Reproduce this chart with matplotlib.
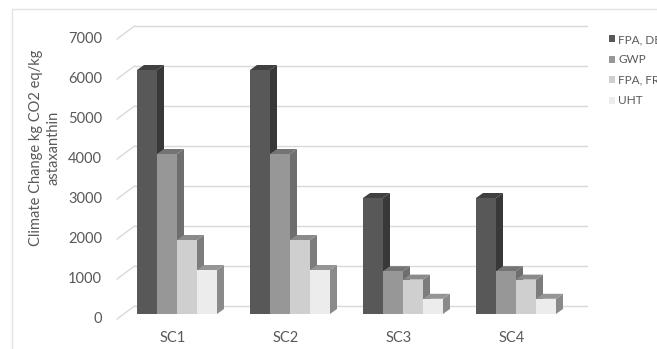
import matplotlib
matplotlib.use("Agg")
import matplotlib.pyplot as plt
from matplotlib.patches import Polygon, Rectangle

# ---- data ----
categories = ["SC1", "SC2", "SC3", "SC4"]
series_names = ["FPA, DE", "GWP", "FPA, FR", "UHT"]
fpa_de = [6100, 6100, 2900, 2900]
gwp = [4000, 4000, 1070, 1070]
fpa_fr = [1850, 1850, 860, 860]
uht = [1100, 1100, 380, 380]
y_ticks = [0, 1000, 2000, 3000, 4000, 5000, 6000, 7000]
y_label = "Climate Change kg CO2 eq/kg\nastaxanthin"

series_values = [fpa_de, gwp, fpa_fr, uht]
front_colors = ["#585858", "#979797", "#cfcfcf", "#ececec"]
side_colors = ["#383838", "#6e6e6e", "#7c7c7c", "#8a8a8a"]
top_colors = ["#404040", "#747474", "#8a8a8a", "#959595"]

plt.rcParams["font.family"] = ["Lato", "DejaVu Sans"]
text_color = "#595959"

W, H, DPI = 657, 349, 100
fig = plt.figure(figsize=(W / DPI, H / DPI), dpi=DPI)
fig.patch.set_facecolor("white")

# front plane of the bars
x_lo, x_hi = -0.5, len(categories) - 0.5
y_lo, y_hi = 0, 7000
ax_left, ax_right = 120.5, 572.5
ax_bottom, ax_top = 314, 34
ax = fig.add_axes([ax_left / W, (H - ax_bottom) / H,
                   (ax_right - ax_left) / W, (ax_bottom - ax_top) / H])
ax.set_xlim(x_lo, x_hi)
ax.set_ylim(y_lo, y_hi)
ax.axis("off")

# size of one pixel in data units
px_x = (x_hi - x_lo) / (ax_right - ax_left)
px_y = (y_hi - y_lo) / (ax_bottom - ax_top)

# back wall offset and label-plane offset relative to the bar fronts
wall_dx, wall_dy = 14 * px_x, 8 * px_y
lab_dx, lab_dy = -3.5 * px_x, -5 * px_y
grid_color = "#d9d9d9"

for v in y_ticks:
    ax.plot([x_lo + wall_dx, x_hi + wall_dx], [v + wall_dy, v + wall_dy],
            color=grid_color, lw=1.0, clip_on=False, zorder=1)
    ax.plot([x_lo + lab_dx, x_lo + wall_dx], [v + lab_dy, v + wall_dy],
            color=grid_color, lw=1.0, clip_on=False, zorder=1)
    ax.text(x_lo - 18.5 * px_x, v + lab_dy, str(v), ha="right", va="center",
            fontsize=10.5, color=text_color)

# 3D-style columns
bar_w = 20 * px_x
depth_x, depth_y = 7 * px_x, 5 * px_y
z = 2
for i, cat in enumerate(categories):
    for j, vals in enumerate(series_values):
        v = vals[i]
        x0 = i + (-40 + 20 * j) * px_x
        x1 = x0 + bar_w
        side = Polygon([(x1, 0), (x1 + depth_x, depth_y), (x1 + depth_x, v + depth_y), (x1, v)],
                       closed=True, facecolor=side_colors[j], edgecolor="none",
                       clip_on=False, zorder=z)
        top = Polygon([(x0, v), (x1, v), (x1 + depth_x, v + depth_y), (x0 + depth_x, v + depth_y)],
                      closed=True, facecolor=top_colors[j], edgecolor="none",
                      clip_on=False, zorder=z)
        front = Rectangle((x0, 0), bar_w, v, facecolor=front_colors[j],
                          edgecolor="none", clip_on=False, zorder=z + 0.5)
        ax.add_patch(side)
        ax.add_patch(top)
        ax.add_patch(front)
        z += 1
    ax.text(i - 4 * px_x, -600, cat, ha="center", va="center",
            fontsize=10.5, color=text_color)

# legend
handles = [Rectangle((0, 0), 1, 1, facecolor=c, edgecolor="none") for c in front_colors]
fig.legend(handles, series_names, loc="upper left",
           bbox_to_anchor=(609 / W, 1 - 34 / H), bbox_transform=fig.transFigure,
           frameon=False, fontsize=8.5, handlelength=0.5, handleheight=0.5,
           handletextpad=0.3, labelspacing=0.8, borderpad=0, borderaxespad=0,
           labelcolor=text_color)

# axis title
fig.text(45 / W, 1 - 148 / H, y_label, rotation=90, ha="center", va="center",
         multialignment="center", fontsize=10.5, color=text_color, linespacing=1.3)

# chart area border
fig.add_artist(Rectangle((12 / W, -0.1), 1.2, (H - 9) / H + 0.1,
                         transform=fig.transFigure, fill=False,
                         edgecolor="#e3e3e3", lw=1.0))

fig.savefig("out.png", dpi=DPI)
